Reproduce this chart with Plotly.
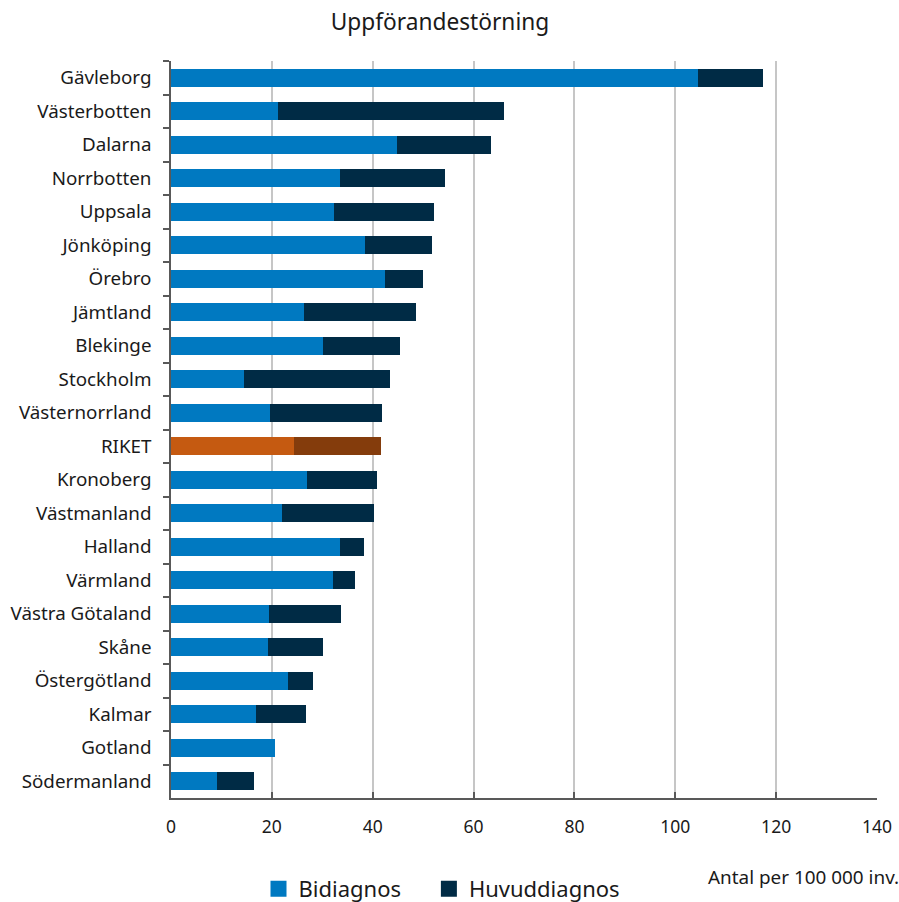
import plotly.graph_objects as go

regions = ["Gävleborg", "Västerbotten", "Dalarna", "Norrbotten", "Uppsala", "Jönköping",
           "Örebro", "Jämtland", "Blekinge", "Stockholm", "Västernorrland", "RIKET",
           "Kronoberg", "Västmanland", "Halland", "Värmland", "Västra Götaland", "Skåne",
           "Östergötland", "Kalmar", "Gotland", "Södermanland"]
bidiagnos = [104.5, 21.2, 44.8, 33.5, 32.3, 38.5, 42.4, 26.4, 30.1, 14.5, 19.6, 24.4,
             27.0, 22.0, 33.5, 32.1, 19.4, 19.2, 23.2, 16.9, 20.6, 9.1]
huvuddiagnos = [12.9, 44.8, 18.7, 20.8, 19.9, 13.3, 7.6, 22.2, 15.3, 28.9, 22.2, 17.2,
                13.8, 18.3, 4.8, 4.4, 14.3, 10.9, 5.0, 9.9, 0.0, 7.4]

BLUE = "#0079C1"
NAVY = "#002B45"
ORANGE = "#C55A11"
BROWN = "#843C0C"
TEXT = "#1a1a1a"

bi_colors = [ORANGE if r == "RIKET" else BLUE for r in regions]
hu_colors = [BROWN if r == "RIKET" else NAVY for r in regions]

fig = go.Figure()
fig.add_trace(go.Bar(y=regions, x=bidiagnos, orientation="h", name="Bidiagnos",
                     marker=dict(color=bi_colors, line=dict(width=0)), showlegend=False))
fig.add_trace(go.Bar(y=regions, x=huvuddiagnos, orientation="h", name="Huvuddiagnos",
                     marker=dict(color=hu_colors, line=dict(width=0)), showlegend=False))
# legend entries
fig.add_trace(go.Scatter(y=[None], x=[None], mode="markers",
                         name="Bidiagnos" + "\u00a0" * 4,
                         marker=dict(color=BLUE, symbol="square", size=20)))
fig.add_trace(go.Scatter(y=[None], x=[None], mode="markers", name="Huvuddiagnos",
                         marker=dict(color=NAVY, symbol="square", size=20)))

fig.update_layout(
    width=899, height=902, autosize=False,
    margin=dict(l=171, r=22, t=61, b=104, autoexpand=False),
    paper_bgcolor="white", plot_bgcolor="white",
    barmode="stack", bargap=0.45,
    font=dict(family="Noto Sans, Open Sans, sans-serif", size=18, color=TEXT),
    title=dict(text="Uppförandestörning", x=440/899, xanchor="center", xref="container",
               y=1 - 22/902, yanchor="middle", yref="container",
               font=dict(size=22.7, color=TEXT)),
    showlegend=True,
    legend=dict(orientation="h", xref="container", yref="container",
                x=258.5/899, xanchor="left", y=1 - 889/902, yanchor="middle",
                font=dict(size=22, color=TEXT), itemsizing="trace", traceorder="normal"),
    xaxis=dict(range=[0, 140], dtick=20, showgrid=True, gridcolor="#c6c6c6", gridwidth=1.5,
               zeroline=False, showline=True, linecolor="#595959", linewidth=1.5,
               ticks="inside", ticklen=6, tickcolor="#595959", tickwidth=1.5,
               ticklabelstandoff=12, automargin=False,
               tickfont=dict(size=17.5, color=TEXT)),
    yaxis=dict(categoryorder="array", categoryarray=regions, autorange="reversed",
               showline=True, linecolor="#595959", linewidth=1.5,
               ticks="outside", ticklen=6, tickcolor="#595959", tickwidth=1.5,
               tickson="boundaries", showgrid=False, zeroline=False,
               ticklabelstandoff=14, automargin=False,
               tickfont=dict(size=18.8, color=TEXT)),
    annotations=[dict(text="Antal per 100 000 inv.", xref="paper", yref="paper",
                      x=1.0 + 24/706, xanchor="right", y=-(877-798)/737, yanchor="middle",
                      showarrow=False, font=dict(size=18.9, color=TEXT))],
)

fig.write_html("out.html", config={"displayModeBar": False},
               post_script="document.body.style.margin='0';")
